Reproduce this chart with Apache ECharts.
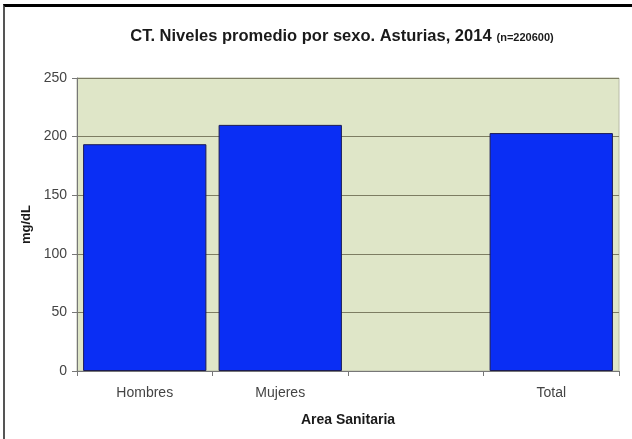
<!DOCTYPE html>
<html><head><meta charset="utf-8">
<script src="https://cdn.jsdelivr.net/npm/echarts@6/dist/echarts.min.js"></script>
<style>
html,body{margin:0;padding:0;background:#fff;}
#frame{position:absolute;left:3px;top:4px;width:629px;height:435px;border-top:3px solid #000;border-left:2px solid #555;box-sizing:border-box;}
#c{position:absolute;left:0;top:0;width:632px;height:439px;}
</style></head>
<body>
<div id="frame"></div>
<div id="c"></div>
<script>
const categories = ['Hombres', 'Mujeres', '', 'Total'];
const values = [193.5, 210, null, 203];
const yTicks = [0, 50, 100, 150, 200, 250];

const chart = echarts.init(document.getElementById('c'), null, {renderer: 'canvas'});
chart.setOption({
  animation: false,
  backgroundColor: 'transparent',
  title: {
    text: '{a|CT. Niveles promedio por sexo. Asturias, 2014} {b|(n=220600)}',
    left: 337, top: 22, textAlign: 'center',
    textStyle: {
      rich: {
        a: {fontFamily: 'Liberation Sans, Arial', fontWeight: 'bold', fontSize: 16.5, color: '#1a1a1a'},
        b: {fontFamily: 'Liberation Sans, Arial', fontWeight: 'bold', fontSize: 11, color: '#1a1a1a', padding: [3, 0, 0, 0]}
      }
    }
  },
  grid: {left: 77, right: 13, top: 78, bottom: 68, show: true, backgroundColor: '#dfe6c8', borderWidth: 1, borderColor: '#b8bca8'},
  xAxis: {
    type: 'category', data: categories,
    name: 'Area Sanitaria', nameLocation: 'middle', nameGap: 42,
    nameTextStyle: {fontFamily: 'Liberation Sans, Arial', fontWeight: 'bold', fontSize: 14, color: '#1a1a1a'},
    axisLine: {lineStyle: {color: '#777', width: 1}},
    axisTick: {show: true, alignWithLabel: false, length: 5, lineStyle: {color: '#777'}},
    axisLabel: {fontFamily: 'Liberation Sans, Arial', fontSize: 14, color: '#444', margin: 15}
  },
  yAxis: {
    type: 'value', min: 0, max: 250, interval: 50,
    name: 'mg/dL', nameLocation: 'middle', nameGap: 44, nameRotate: 90, nameMoveOverlap: false,
    nameTextStyle: {fontFamily: 'Liberation Sans, Arial', fontWeight: 'bold', fontSize: 13, color: '#1a1a1a'},
    axisLine: {show: true, lineStyle: {color: '#777'}},
    axisTick: {show: true, length: 5, lineStyle: {color: '#777'}},
    axisLabel: {fontFamily: 'Liberation Sans, Arial', fontSize: 14, color: '#444', margin: 10,
      formatter: v => yTicks.includes(v) ? String(v) : ''},
    splitLine: {show: true, lineStyle: {color: '#7d7d62', width: 1}}
  },
  series: [{
    type: 'bar', data: values, barCategoryGap: '9%',
    itemStyle: {color: '#0a2ef4', borderColor: '#1b1b55', borderWidth: 1}
  }]
});
</script>
</body></html>
